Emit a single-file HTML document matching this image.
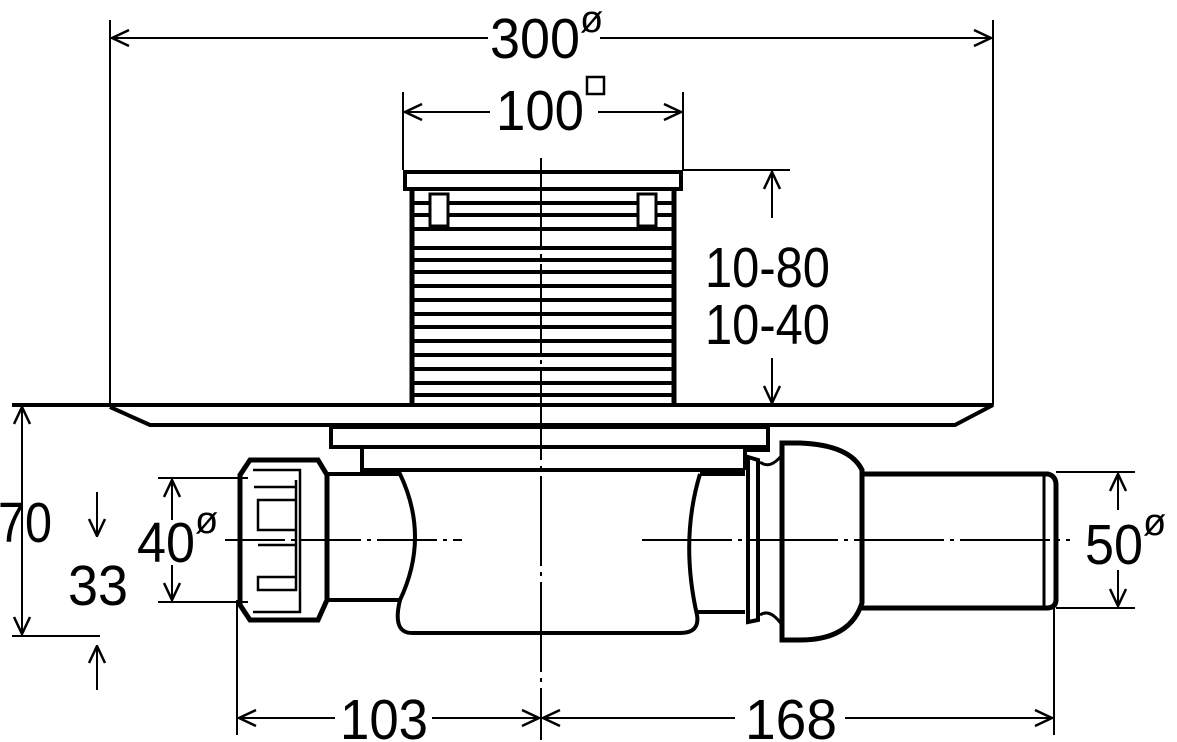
<!DOCTYPE html>
<html><head><meta charset="utf-8"><style>body{margin:0;background:#fff}svg{display:block}text{font-family:"Liberation Sans",sans-serif;font-size:57px;fill:#000}</style></head><body>
<svg width="1177" height="742" viewBox="0 0 1177 742" xmlns="http://www.w3.org/2000/svg">
<defs><marker id="a" viewBox="0 0 20 20" refX="19" refY="10" markerWidth="20" markerHeight="20" markerUnits="userSpaceOnUse" orient="auto-start-reverse"><path d="M2 2 L19 10 L2 18" fill="none" stroke="#000" stroke-width="2.5"/></marker></defs>
<g stroke="#000" fill="none" stroke-width="2">
<line x1="110" y1="20" x2="110" y2="405"/><line x1="993" y1="20" x2="993" y2="405"/>
<line x1="403" y1="92" x2="403" y2="170"/><line x1="683" y1="92" x2="683" y2="170"/>
<line x1="683" y1="170" x2="790" y2="170"/>
<line x1="112" y1="38" x2="488" y2="38" marker-start="url(#a)"/><line x1="600" y1="38" x2="991" y2="38" marker-end="url(#a)"/>
<line x1="405" y1="112" x2="490" y2="112" marker-start="url(#a)"/><line x1="598" y1="112" x2="681" y2="112" marker-end="url(#a)"/>
<line x1="772" y1="218" x2="772" y2="172" marker-end="url(#a)"/><line x1="772" y1="358" x2="772" y2="403" marker-end="url(#a)"/>
<path d="M12 405 H993 L955 425 H150 L110 407" stroke-width="4"/>
<rect x="405" y="172" width="276" height="17" stroke-width="4"/>
<path d="M412 190 V405 M674 190 V405" stroke-width="5"/>
<g stroke-width="4">
<line x1="412" y1="203" x2="674" y2="203"/><line x1="412" y1="215" x2="674" y2="215"/>
<line x1="412" y1="229" x2="674" y2="229"/>
<line x1="412" y1="248" x2="674" y2="248"/><line x1="412" y1="260" x2="674" y2="260"/>
<line x1="412" y1="272" x2="674" y2="272"/><line x1="412" y1="286" x2="674" y2="286"/>
<line x1="412" y1="300" x2="674" y2="300"/><line x1="412" y1="314" x2="674" y2="314"/>
<line x1="412" y1="327" x2="674" y2="327"/><line x1="412" y1="341" x2="674" y2="341"/>
<line x1="412" y1="355" x2="674" y2="355"/><line x1="412" y1="369" x2="674" y2="369"/>
<line x1="412" y1="383" x2="674" y2="383"/><line x1="412" y1="395" x2="674" y2="395"/>
</g>
<rect x="430" y="194" width="18" height="32" fill="#fff" stroke-width="3"/>
<rect x="638" y="194" width="18" height="32" fill="#fff" stroke-width="3"/>
<rect x="331" y="427" width="437" height="20" stroke-width="4"/>
<path d="M362 447 V470 H745 M745 470 V450 L770 450" stroke-width="4"/>
<path d="M327 474 H400 Q430 537 400 600 H327" stroke-width="4"/>
<path d="M400 600 Q392 633 412 633 H680 Q700 633 697 615 Q680 540 700 474" stroke-width="4"/>
<path d="M697 612 H745 M700 474 H745" stroke-width="4"/>
<path d="M250 460 H318 L327 475 V600 L318 620 H250 L240 605 V475 Z" stroke-width="5"/>
<path d="M253 470 H300 V612 H253" stroke-width="2.5"/>
<path d="M254 487 H296 V500 H258 V530 H296 M258 545 H296 V577 H258 V590 H296 V480" stroke-width="2.5"/>
<path d="M748 457 L758 460 V620 L748 622 Z" stroke-width="4"/>
<path d="M760 462 Q770 470 782 455 M760 615 Q770 608 782 625" stroke-width="3"/>
<path d="M782 443 H800 Q850 445 862 470 V603 Q850 640 800 640 H782 Z" stroke-width="5"/>
<path d="M862 474 H1048 Q1056 476 1056 485 V600 Q1056 607 1048 608 H862" stroke-width="5"/>
<line x1="1044" y1="476" x2="1044" y2="606" stroke-width="3"/>
<line x1="541" y1="158" x2="541" y2="740" stroke-dasharray="90 6 4 6"/>
<line x1="225" y1="540" x2="462" y2="540" stroke-dasharray="60 6 4 6"/>
<line x1="642" y1="540" x2="1070" y2="540" stroke-dasharray="90 6 4 6"/>
<line x1="12" y1="636" x2="100" y2="636"/>
<line x1="22" y1="407" x2="22" y2="634" marker-start="url(#a)" marker-end="url(#a)"/>
<line x1="97" y1="492" x2="97" y2="536" marker-end="url(#a)"/><line x1="97" y1="690" x2="97" y2="646" marker-end="url(#a)"/>
<line x1="158" y1="478" x2="248" y2="478"/><line x1="158" y1="602" x2="248" y2="602"/>
<line x1="172" y1="520" x2="172" y2="480" marker-end="url(#a)"/><line x1="172" y1="565" x2="172" y2="600" marker-end="url(#a)"/>
<line x1="1056" y1="472" x2="1135" y2="472"/><line x1="1056" y1="608" x2="1135" y2="608"/>
<line x1="1118" y1="510" x2="1118" y2="474" marker-end="url(#a)"/><line x1="1118" y1="570" x2="1118" y2="606" marker-end="url(#a)"/>
<line x1="237" y1="600" x2="237" y2="735"/><line x1="1054" y1="608" x2="1054" y2="735"/>
<line x1="239" y1="718" x2="335" y2="718" marker-start="url(#a)"/><line x1="432" y1="718" x2="539" y2="718" marker-end="url(#a)"/>
<line x1="543" y1="718" x2="735" y2="718" marker-start="url(#a)"/><line x1="845" y1="718" x2="1052" y2="718" marker-end="url(#a)"/>
<rect x="587" y="77" width="17" height="17" stroke-width="2.5"/>
</g>
<text x="490" y="58" textLength="90" lengthAdjust="spacingAndGlyphs">300</text>
<text x="580" y="32" style="font-size:38px">ø</text>
<text x="496" y="130" textLength="88" lengthAdjust="spacingAndGlyphs">100</text>
<text x="705" y="287" textLength="125" lengthAdjust="spacingAndGlyphs">10-80</text>
<text x="705" y="344" textLength="125" lengthAdjust="spacingAndGlyphs">10-40</text>
<text x="-2" y="542" textLength="54" lengthAdjust="spacingAndGlyphs">70</text>
<text x="68" y="605" textLength="60" lengthAdjust="spacingAndGlyphs">33</text>
<text x="137" y="562" textLength="58" lengthAdjust="spacingAndGlyphs">40</text>
<text x="195" y="533" style="font-size:38px">ø</text>
<text x="1085" y="564" textLength="58" lengthAdjust="spacingAndGlyphs">50</text>
<text x="1143" y="535" style="font-size:38px">ø</text>
<text x="340" y="739" textLength="88" lengthAdjust="spacingAndGlyphs">103</text>
<text x="745" y="739" textLength="92" lengthAdjust="spacingAndGlyphs">168</text>
</svg>
</body></html>
